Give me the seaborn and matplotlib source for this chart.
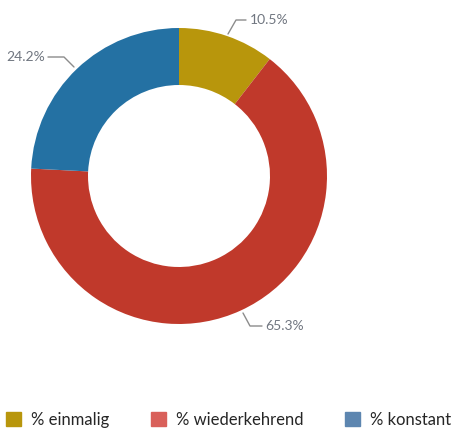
import seaborn as sns
import matplotlib.pyplot as plt
from matplotlib.patches import Patch

sns.set_style("white")
plt.rcParams['font.family'] = ['Lato', 'DejaVu Sans']

categories = ["% einmalig", "% wiederkehrend", "% konstant"]
shares = [10.5, 65.3, 24.2]
wedge_colors = ["#B8960C", "#C0392B", "#2471A3"]
legend_colors = ["#B8960C", "#D9605A", "#5D86B0"]

W, H = 458, 434
fig = plt.figure(figsize=(W / 100, H / 100), dpi=100)
ax = fig.add_axes([0, 0, 1, 1])

cx, cy, R = 179, H - 176, 148
ax.pie(shares, colors=wedge_colors, startangle=90, counterclock=False,
       center=(cx, cy), radius=R, frame=True,
       wedgeprops=dict(width=57, linewidth=0))
ax.set_xlim(0, W)
ax.set_ylim(0, H)
ax.set_aspect("equal")
ax.axis("off")

# leader lines + labels (pixel coords, y from top)
leaders = [
    ([(228, 34), (236, 20), (246, 20)], (250, 20), "left"),
    ([(74, 67), (64, 57), (48, 57)], (45, 57), "right"),
    ([(243, 313), (250, 326), (262, 326)], (265, 326), "left"),
]
for (pts, (tx, ty), ha), v in zip(leaders, [shares[0], shares[2], shares[1]]):
    xs = [p[0] for p in pts]
    ys = [H - p[1] for p in pts]
    ax.plot(xs, ys, color="#8c8c8c", lw=1)
    ax.text(tx, H - ty, f"{v}%", ha=ha, va="center", fontsize=10, color="#707680")

handles = [Patch(color=c, label=l) for c, l in zip(legend_colors, categories)]
fig.legend(handles=handles, loc="lower center", ncol=3, frameon=False,
           bbox_to_anchor=(0.5, -0.012), fontsize=12, handlelength=0.9,
           handleheight=0.9, columnspacing=2.5, handletextpad=0.6,
           borderaxespad=0.3)

plt.savefig("out.png", dpi=100)
